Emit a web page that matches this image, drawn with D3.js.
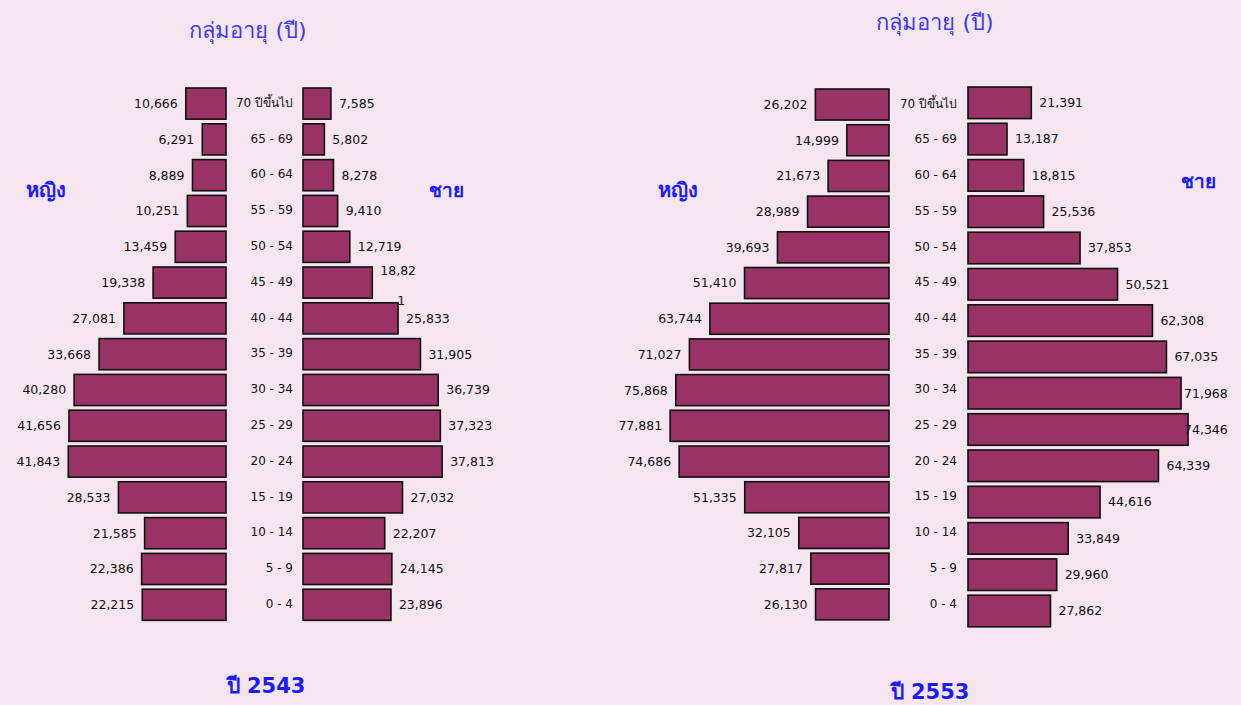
<!DOCTYPE html>
<html>
<head>
<meta charset="utf-8">
<script src="https://cdn.jsdelivr.net/npm/d3@7"></script>
<style>
  body { margin: 0; background: #f4e5ee; }
  svg text { font-family: 'DejaVu Sans', Tahoma, sans-serif; }
</style>
</head>
<body>
<div class="chartWrap"></div>
<script>
// age groups, oldest first (top of pyramid)
var ageGroups = ['70 ปีขึ้นไป', '65 - 69', '60 - 64', '55 - 59', '50 - 54', '45 - 49', '40 - 44',
  '35 - 39', '30 - 34', '25 - 29', '20 - 24', '15 - 19', '10 - 14', '5 - 9', '0 - 4'];

var female2543 = [10666, 6291, 8889, 10251, 13459, 19338, 27081, 33668, 40280, 41656, 41843, 28533, 21585, 22386, 22215];
var male2543 = [7585, 5802, 8278, 9410, 12719, 18821, 25833, 31905, 36739, 37323, 37813, 27032, 22207, 24145, 23896];

var female2553 = [26202, 14999, 21673, 28989, 39693, 51410, 63744, 71027, 75868, 77881, 74686, 51335, 32105, 27817, 26130];
var male2553 = [21391, 13187, 18815, 25536, 37853, 50521, 62308, 67035, 71968, 74346, 64339, 44616, 33849, 29960, 27862];

var titleText = 'กลุ่มอายุ (ปี)';
var femaleText = 'หญิง';
var maleText = 'ชาย';
var yearTexts = ['ปี 2543', 'ปี 2553'];

pyramids = {

  init: function(){
    self = this;
    self.width = 1241;
    self.height = 705;
    self.fmt = d3.format(',');

    // layout of each pyramid (px), no data in here
    self.panels = [
      {
        female: female2543, male: male2543, year: yearTexts[0],
        fRight: 226, mLeft: 303, fSpan: 188.5, mSpan: 184,
        fTop: 88, fStep: 35.8, mTop: 88, mStep: 35.8,
        ageX: 293, title: [248, 38], fLab: [46, 197], mLab: [446, 197], yr: [266, 693],
        labelMax: 9999, wrap: 5
      },
      {
        female: female2553, male: male2553, year: yearTexts[1],
        fRight: 889, mLeft: 968, fSpan: 140.5, mSpan: 148,
        fTop: 89, fStep: 35.7, mTop: 87, mStep: 36.3,
        ageX: 957, title: [935, 30], fLab: [678, 197], mLab: [1198, 188], yr: [930, 699],
        labelMax: 1184, wrap: -1
      }
    ];

    self.svg = d3.select('.chartWrap')
      .append('svg')
      .attr('width', self.width)
      .attr('height', self.height);

    self.svg.append('rect')
      .attr('width', self.width)
      .attr('height', self.height)
      .style('fill', '#f4e5ee');

    self.panels.forEach(function(p){ self.drawPanel(p); });
  },

  band: function(top, step){
    var pad = 0.13;
    var start = top - step * pad;
    return d3.scaleBand()
      .domain(ageGroups)
      .range([start, start + step * (ageGroups.length + pad)])
      .padding(pad);
  },

  drawPanel: function(p){
    var g = self.svg.append('g');
    var yF = self.band(p.fTop, p.fStep);
    var yM = self.band(p.mTop, p.mStep);
    var xF = d3.scaleLinear().domain([0, 50000]).range([0, p.fSpan]);
    var xM = d3.scaleLinear().domain([0, 50000]).range([0, p.mSpan]);

    var rows = ageGroups.map(function(a, i){
      return {age: a, f: p.female[i], m: p.male[i], i: i};
    });

    // female bars (grow to the left)
    g.selectAll('.fBar')
      .data(rows)
      .enter()
        .append('rect')
        .attr('class', 'fBar')
        .attr('x', function(d){ return p.fRight - xF(d.f); })
        .attr('y', function(d){ return yF(d.age); })
        .attr('width', function(d){ return xF(d.f); })
        .attr('height', yF.bandwidth())
        .style('fill', '#993366')
        .style('stroke', '#111')
        .style('stroke-width', 1.6);

    // male bars (grow to the right)
    g.selectAll('.mBar')
      .data(rows)
      .enter()
        .append('rect')
        .attr('class', 'mBar')
        .attr('x', p.mLeft)
        .attr('y', function(d){ return yM(d.age); })
        .attr('width', function(d){ return xM(d.m); })
        .attr('height', yM.bandwidth())
        .style('fill', '#993366')
        .style('stroke', '#111')
        .style('stroke-width', 1.6);

    g.selectAll('.fVal')
      .data(rows)
      .enter()
        .append('text')
        .attr('class', 'fVal')
        .attr('x', function(d){ return p.fRight - xF(d.f) - 8; })
        .attr('y', function(d){ return yF(d.age) + yF.bandwidth() / 2; })
        .attr('dy', '0.35em')
        .attr('text-anchor', 'end')
        .style('font-size', '12.5px')
        .style('fill', '#111')
        .text(function(d){ return self.fmt(d.f); });

    var mVal = g.selectAll('.mVal')
      .data(rows)
      .enter()
        .append('text')
        .attr('class', 'mVal')
        .attr('x', function(d){ return Math.min(p.mLeft + xM(d.m) + 8, p.labelMax); })
        .attr('y', function(d){ return yM(d.age) + yM.bandwidth() / 2; })
        .attr('dy', '0.35em')
        .style('font-size', '12.5px')
        .style('fill', '#111');

    mVal.each(function(d){
      var t = d3.select(this);
      var s = self.fmt(d.m);
      if(d.i === p.wrap){
        // label broken over two lines, as in the original
        var x0 = +t.attr('x');
        t.attr('dy', null);
        t.append('tspan').attr('x', x0).attr('dy', '-0.6em').text(s.slice(0, 5));
        t.append('tspan').attr('x', x0 + 17).attr('dy', '2.4em').text(s.slice(5));
      } else {
        t.text(s);
      }
    });

    g.selectAll('.ageLab')
      .data(rows)
      .enter()
        .append('text')
        .attr('class', 'ageLab')
        .attr('x', p.ageX)
        .attr('y', function(d){ return yF(d.age) + yF.bandwidth() / 2 - 1; })
        .attr('dy', '0.35em')
        .attr('text-anchor', 'end')
        .style('font-size', '12px')
        .style('fill', '#111')
        .text(function(d){ return d.age; });

    g.append('text')
      .attr('x', p.title[0]).attr('y', p.title[1])
      .attr('text-anchor', 'middle')
      .style('font-size', '22px')
      .style('fill', '#3a3af5')
      .text(titleText);

    g.append('text')
      .attr('x', p.fLab[0]).attr('y', p.fLab[1])
      .attr('text-anchor', 'middle')
      .style('font-size', '20px')
      .style('font-weight', 'bold')
      .style('fill', '#1a1aff')
      .text(femaleText);

    g.append('text')
      .attr('x', p.mLab[0]).attr('y', p.mLab[1])
      .attr('text-anchor', 'middle')
      .style('font-size', '19px')
      .style('font-weight', 'bold')
      .style('fill', '#1a1aff')
      .text(maleText);

    g.append('text')
      .attr('x', p.yr[0]).attr('y', p.yr[1])
      .attr('text-anchor', 'middle')
      .style('font-size', '21px')
      .style('font-weight', 'bold')
      .style('fill', '#1a1aff')
      .text(p.year);
  }
};

pyramids.init();
</script>
</body>
</html>
